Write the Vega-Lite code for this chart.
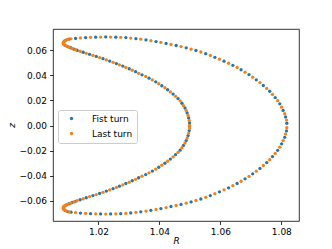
{
"$schema": "https://vega.github.io/schema/vega-lite/v6.json",
"width": 246, "height": 192,
"autosize": {"type": "none"},
"padding": {"left": 53, "top": 29, "right": 33, "bottom": 28},
"background": "white",
"config": {
  "font": "DejaVu Sans",
  "view": {"stroke": "#000", "strokeWidth": 0.8},
  "axis": {"grid": false, "domain": false, "tickColor": "#000", "tickWidth": 0.8, "tickSize": 3.5, "labelColor": "#000", "labelFont": "DejaVu Sans", "labelFontSize": 9, "titleFont": "DejaVu Sans", "titleFontSize": 9, "titleFontStyle": "italic", "titleFontWeight": "normal", "titleColor": "#000"}
},
"data": {"values": [
{"s":"Fist turn","R":1.0104,"z":0.0687},{"s":"Fist turn","R":1.0094,"z":0.0679},{"s":"Fist turn","R":1.0088,"z":0.0669},{"s":"Fist turn","R":1.0085,"z":0.0658},{"s":"Fist turn","R":1.0086,"z":0.0647},{"s":"Fist turn","R":1.0091,"z":0.0637},{"s":"Fist turn","R":1.0099,"z":0.0627},{"s":"Fist turn","R":1.0109,"z":0.0618},{"s":"Fist turn","R":1.0120,"z":0.0607},
{"s":"Fist turn","R":1.0125,"z":0.0692},{"s":"Fist turn","R":1.0158,"z":0.0699},{"s":"Fist turn","R":1.0191,"z":0.0702},{"s":"Fist turn","R":1.0224,"z":0.0704},{"s":"Fist turn","R":1.0257,"z":0.0702},{"s":"Fist turn","R":1.0290,"z":0.0699},{"s":"Fist turn","R":1.0323,"z":0.0690},{"s":"Fist turn","R":1.0356,"z":0.0680},{"s":"Fist turn","R":1.0389,"z":0.0667},{"s":"Fist turn","R":1.0422,"z":0.0652},{"s":"Fist turn","R":1.0455,"z":0.0636},{"s":"Fist turn","R":1.0488,"z":0.0617},{"s":"Fist turn","R":1.0520,"z":0.0596},{"s":"Fist turn","R":1.0552,"z":0.0571},{"s":"Fist turn","R":1.0582,"z":0.0542},{"s":"Fist turn","R":1.0612,"z":0.0511},{"s":"Fist turn","R":1.0641,"z":0.0478},{"s":"Fist turn","R":1.0668,"z":0.0443},{"s":"Fist turn","R":1.0694,"z":0.0405},{"s":"Fist turn","R":1.0718,"z":0.0363},{"s":"Fist turn","R":1.0741,"z":0.0318},{"s":"Fist turn","R":1.0762,"z":0.0272},{"s":"Fist turn","R":1.0780,"z":0.0222},{"s":"Fist turn","R":1.0795,"z":0.0172},{"s":"Fist turn","R":1.0806,"z":0.0120},{"s":"Fist turn","R":1.0814,"z":0.0068},{"s":"Fist turn","R":1.0818,"z":0.0018},
{"s":"Fist turn","R":1.0130,"z":0.0598},{"s":"Fist turn","R":1.0150,"z":0.0582},{"s":"Fist turn","R":1.0171,"z":0.0566},{"s":"Fist turn","R":1.0193,"z":0.0549},{"s":"Fist turn","R":1.0215,"z":0.0531},{"s":"Fist turn","R":1.0237,"z":0.0512},{"s":"Fist turn","R":1.0259,"z":0.0492},{"s":"Fist turn","R":1.0280,"z":0.0472},{"s":"Fist turn","R":1.0301,"z":0.0451},{"s":"Fist turn","R":1.0322,"z":0.0428},{"s":"Fist turn","R":1.0343,"z":0.0403},{"s":"Fist turn","R":1.0366,"z":0.0376},{"s":"Fist turn","R":1.0388,"z":0.0347},{"s":"Fist turn","R":1.0408,"z":0.0316},{"s":"Fist turn","R":1.0427,"z":0.0284},{"s":"Fist turn","R":1.0445,"z":0.0250},{"s":"Fist turn","R":1.0461,"z":0.0214},{"s":"Fist turn","R":1.0474,"z":0.0177},{"s":"Fist turn","R":1.0484,"z":0.0139},{"s":"Fist turn","R":1.0491,"z":0.0100},{"s":"Fist turn","R":1.0496,"z":0.0060},{"s":"Fist turn","R":1.0499,"z":0.0020},
{"s":"Fist turn","R":1.0099,"z":-0.0684},{"s":"Fist turn","R":1.0090,"z":-0.0674},{"s":"Fist turn","R":1.0086,"z":-0.0663},{"s":"Fist turn","R":1.0085,"z":-0.0652},{"s":"Fist turn","R":1.0088,"z":-0.0642},{"s":"Fist turn","R":1.0095,"z":-0.0632},{"s":"Fist turn","R":1.0104,"z":-0.0622},{"s":"Fist turn","R":1.0114,"z":-0.0612},{"s":"Fist turn","R":1.0125,"z":-0.0603},
{"s":"Fist turn","R":1.0110,"z":-0.0689},{"s":"Fist turn","R":1.0141,"z":-0.0696},{"s":"Fist turn","R":1.0174,"z":-0.0701},{"s":"Fist turn","R":1.0207,"z":-0.0703},{"s":"Fist turn","R":1.0240,"z":-0.0703},{"s":"Fist turn","R":1.0273,"z":-0.0701},{"s":"Fist turn","R":1.0306,"z":-0.0695},{"s":"Fist turn","R":1.0339,"z":-0.0686},{"s":"Fist turn","R":1.0372,"z":-0.0674},{"s":"Fist turn","R":1.0405,"z":-0.0660},{"s":"Fist turn","R":1.0438,"z":-0.0644},{"s":"Fist turn","R":1.0471,"z":-0.0627},{"s":"Fist turn","R":1.0504,"z":-0.0607},{"s":"Fist turn","R":1.0536,"z":-0.0584},{"s":"Fist turn","R":1.0567,"z":-0.0557},{"s":"Fist turn","R":1.0597,"z":-0.0527},{"s":"Fist turn","R":1.0627,"z":-0.0495},{"s":"Fist turn","R":1.0655,"z":-0.0461},{"s":"Fist turn","R":1.0681,"z":-0.0424},{"s":"Fist turn","R":1.0706,"z":-0.0384},{"s":"Fist turn","R":1.0730,"z":-0.0341},{"s":"Fist turn","R":1.0752,"z":-0.0295},{"s":"Fist turn","R":1.0771,"z":-0.0247},{"s":"Fist turn","R":1.0788,"z":-0.0197},{"s":"Fist turn","R":1.0801,"z":-0.0146},{"s":"Fist turn","R":1.0811,"z":-0.0094},{"s":"Fist turn","R":1.0817,"z":-0.0043},
{"s":"Fist turn","R":1.0140,"z":-0.0590},{"s":"Fist turn","R":1.0160,"z":-0.0574},{"s":"Fist turn","R":1.0182,"z":-0.0557},{"s":"Fist turn","R":1.0204,"z":-0.0540},{"s":"Fist turn","R":1.0226,"z":-0.0521},{"s":"Fist turn","R":1.0248,"z":-0.0502},{"s":"Fist turn","R":1.0269,"z":-0.0482},{"s":"Fist turn","R":1.0290,"z":-0.0461},{"s":"Fist turn","R":1.0311,"z":-0.0439},{"s":"Fist turn","R":1.0332,"z":-0.0415},{"s":"Fist turn","R":1.0355,"z":-0.0390},{"s":"Fist turn","R":1.0377,"z":-0.0362},{"s":"Fist turn","R":1.0398,"z":-0.0332},{"s":"Fist turn","R":1.0418,"z":-0.0300},{"s":"Fist turn","R":1.0436,"z":-0.0267},{"s":"Fist turn","R":1.0453,"z":-0.0232},{"s":"Fist turn","R":1.0468,"z":-0.0196},{"s":"Fist turn","R":1.0479,"z":-0.0158},{"s":"Fist turn","R":1.0488,"z":-0.0120},{"s":"Fist turn","R":1.0494,"z":-0.0080},{"s":"Fist turn","R":1.0498,"z":-0.0040},{"s":"Fist turn","R":1.0499,"z":-0.0003},
{"s":"Last turn","R":1.0099,"z":0.0684},{"s":"Last turn","R":1.0090,"z":0.0674},{"s":"Last turn","R":1.0086,"z":0.0663},{"s":"Last turn","R":1.0085,"z":0.0652},{"s":"Last turn","R":1.0088,"z":0.0642},{"s":"Last turn","R":1.0095,"z":0.0632},{"s":"Last turn","R":1.0104,"z":0.0622},{"s":"Last turn","R":1.0114,"z":0.0612},{"s":"Last turn","R":1.0125,"z":0.0603},
{"s":"Last turn","R":1.0110,"z":0.0689},{"s":"Last turn","R":1.0141,"z":0.0696},{"s":"Last turn","R":1.0174,"z":0.0701},{"s":"Last turn","R":1.0207,"z":0.0703},{"s":"Last turn","R":1.0240,"z":0.0703},{"s":"Last turn","R":1.0273,"z":0.0701},{"s":"Last turn","R":1.0306,"z":0.0695},{"s":"Last turn","R":1.0339,"z":0.0686},{"s":"Last turn","R":1.0372,"z":0.0674},{"s":"Last turn","R":1.0405,"z":0.0660},{"s":"Last turn","R":1.0438,"z":0.0644},{"s":"Last turn","R":1.0471,"z":0.0627},{"s":"Last turn","R":1.0504,"z":0.0607},{"s":"Last turn","R":1.0536,"z":0.0584},{"s":"Last turn","R":1.0567,"z":0.0557},{"s":"Last turn","R":1.0597,"z":0.0527},{"s":"Last turn","R":1.0627,"z":0.0495},{"s":"Last turn","R":1.0655,"z":0.0461},{"s":"Last turn","R":1.0681,"z":0.0424},{"s":"Last turn","R":1.0706,"z":0.0384},{"s":"Last turn","R":1.0730,"z":0.0341},{"s":"Last turn","R":1.0752,"z":0.0295},{"s":"Last turn","R":1.0771,"z":0.0247},{"s":"Last turn","R":1.0788,"z":0.0197},{"s":"Last turn","R":1.0801,"z":0.0146},{"s":"Last turn","R":1.0811,"z":0.0094},{"s":"Last turn","R":1.0817,"z":0.0043},
{"s":"Last turn","R":1.0140,"z":0.0590},{"s":"Last turn","R":1.0160,"z":0.0574},{"s":"Last turn","R":1.0182,"z":0.0557},{"s":"Last turn","R":1.0204,"z":0.0540},{"s":"Last turn","R":1.0226,"z":0.0521},{"s":"Last turn","R":1.0248,"z":0.0502},{"s":"Last turn","R":1.0269,"z":0.0482},{"s":"Last turn","R":1.0290,"z":0.0461},{"s":"Last turn","R":1.0311,"z":0.0439},{"s":"Last turn","R":1.0332,"z":0.0415},{"s":"Last turn","R":1.0355,"z":0.0390},{"s":"Last turn","R":1.0377,"z":0.0362},{"s":"Last turn","R":1.0398,"z":0.0332},{"s":"Last turn","R":1.0418,"z":0.0300},{"s":"Last turn","R":1.0436,"z":0.0267},{"s":"Last turn","R":1.0453,"z":0.0232},{"s":"Last turn","R":1.0468,"z":0.0196},{"s":"Last turn","R":1.0479,"z":0.0158},{"s":"Last turn","R":1.0488,"z":0.0120},{"s":"Last turn","R":1.0494,"z":0.0080},{"s":"Last turn","R":1.0498,"z":0.0040},{"s":"Last turn","R":1.0499,"z":0.0000},
{"s":"Last turn","R":1.0104,"z":-0.0687},{"s":"Last turn","R":1.0094,"z":-0.0679},{"s":"Last turn","R":1.0088,"z":-0.0669},{"s":"Last turn","R":1.0085,"z":-0.0658},{"s":"Last turn","R":1.0086,"z":-0.0647},{"s":"Last turn","R":1.0091,"z":-0.0637},{"s":"Last turn","R":1.0099,"z":-0.0627},{"s":"Last turn","R":1.0109,"z":-0.0618},{"s":"Last turn","R":1.0120,"z":-0.0607},
{"s":"Last turn","R":1.0125,"z":-0.0692},{"s":"Last turn","R":1.0158,"z":-0.0699},{"s":"Last turn","R":1.0191,"z":-0.0702},{"s":"Last turn","R":1.0224,"z":-0.0704},{"s":"Last turn","R":1.0257,"z":-0.0702},{"s":"Last turn","R":1.0290,"z":-0.0699},{"s":"Last turn","R":1.0323,"z":-0.0690},{"s":"Last turn","R":1.0356,"z":-0.0680},{"s":"Last turn","R":1.0389,"z":-0.0667},{"s":"Last turn","R":1.0422,"z":-0.0652},{"s":"Last turn","R":1.0455,"z":-0.0636},{"s":"Last turn","R":1.0488,"z":-0.0617},{"s":"Last turn","R":1.0520,"z":-0.0596},{"s":"Last turn","R":1.0552,"z":-0.0571},{"s":"Last turn","R":1.0582,"z":-0.0542},{"s":"Last turn","R":1.0612,"z":-0.0511},{"s":"Last turn","R":1.0641,"z":-0.0478},{"s":"Last turn","R":1.0668,"z":-0.0443},{"s":"Last turn","R":1.0694,"z":-0.0405},{"s":"Last turn","R":1.0718,"z":-0.0363},{"s":"Last turn","R":1.0741,"z":-0.0318},{"s":"Last turn","R":1.0762,"z":-0.0272},{"s":"Last turn","R":1.0780,"z":-0.0222},{"s":"Last turn","R":1.0795,"z":-0.0172},{"s":"Last turn","R":1.0806,"z":-0.0120},{"s":"Last turn","R":1.0814,"z":-0.0068},{"s":"Last turn","R":1.0818,"z":-0.0018},
{"s":"Last turn","R":1.0130,"z":-0.0598},{"s":"Last turn","R":1.0150,"z":-0.0582},{"s":"Last turn","R":1.0171,"z":-0.0566},{"s":"Last turn","R":1.0193,"z":-0.0549},{"s":"Last turn","R":1.0215,"z":-0.0531},{"s":"Last turn","R":1.0237,"z":-0.0512},{"s":"Last turn","R":1.0259,"z":-0.0492},{"s":"Last turn","R":1.0280,"z":-0.0472},{"s":"Last turn","R":1.0301,"z":-0.0451},{"s":"Last turn","R":1.0322,"z":-0.0428},{"s":"Last turn","R":1.0343,"z":-0.0403},{"s":"Last turn","R":1.0366,"z":-0.0376},{"s":"Last turn","R":1.0388,"z":-0.0347},{"s":"Last turn","R":1.0408,"z":-0.0316},{"s":"Last turn","R":1.0427,"z":-0.0284},{"s":"Last turn","R":1.0445,"z":-0.0250},{"s":"Last turn","R":1.0461,"z":-0.0214},{"s":"Last turn","R":1.0474,"z":-0.0177},{"s":"Last turn","R":1.0484,"z":-0.0139},{"s":"Last turn","R":1.0491,"z":-0.0100},{"s":"Last turn","R":1.0496,"z":-0.0060},{"s":"Last turn","R":1.0499,"z":-0.0020}
]},
"mark": {"type": "point", "filled": true, "size": 11, "opacity": 1},
"encoding": {
  "x": {"field": "R", "type": "quantitative", "scale": {"domain": [1.0051, 1.0858], "zero": false, "nice": false},
        "axis": {"values": [1.02, 1.04, 1.06, 1.08], "format": ".2f", "title": "R", "labelPadding": 3, "titleX": 123, "titleY": 15}},
  "y": {"field": "z", "type": "quantitative", "scale": {"domain": [-0.0759, 0.0767], "zero": false, "nice": false},
        "axis": {"values": [-0.06, -0.04, -0.02, 0, 0.02, 0.04, 0.06], "format": ".2f", "title": "z", "labelPadding": 3, "titleX": -37, "titleY": 96}},
  "color": {"field": "s", "type": "nominal", "scale": {"domain": ["Fist turn", "Last turn"], "range": ["#1f77b4", "#ff7f0e"]},
            "legend": {"title": null, "orient": "none", "legendX": 5, "legendY": 81, "fillColor": "rgba(255,255,255,0.8)", "strokeColor": "#cccccc", "cornerRadius": 2, "padding": 4, "symbolType": "circle", "symbolSize": 11, "symbolOffset": 5, "labelOffset": 16, "labelFontSize": 9, "labelFont": "DejaVu Sans", "labelColor": "#000", "rowPadding": 5}}
}
}
